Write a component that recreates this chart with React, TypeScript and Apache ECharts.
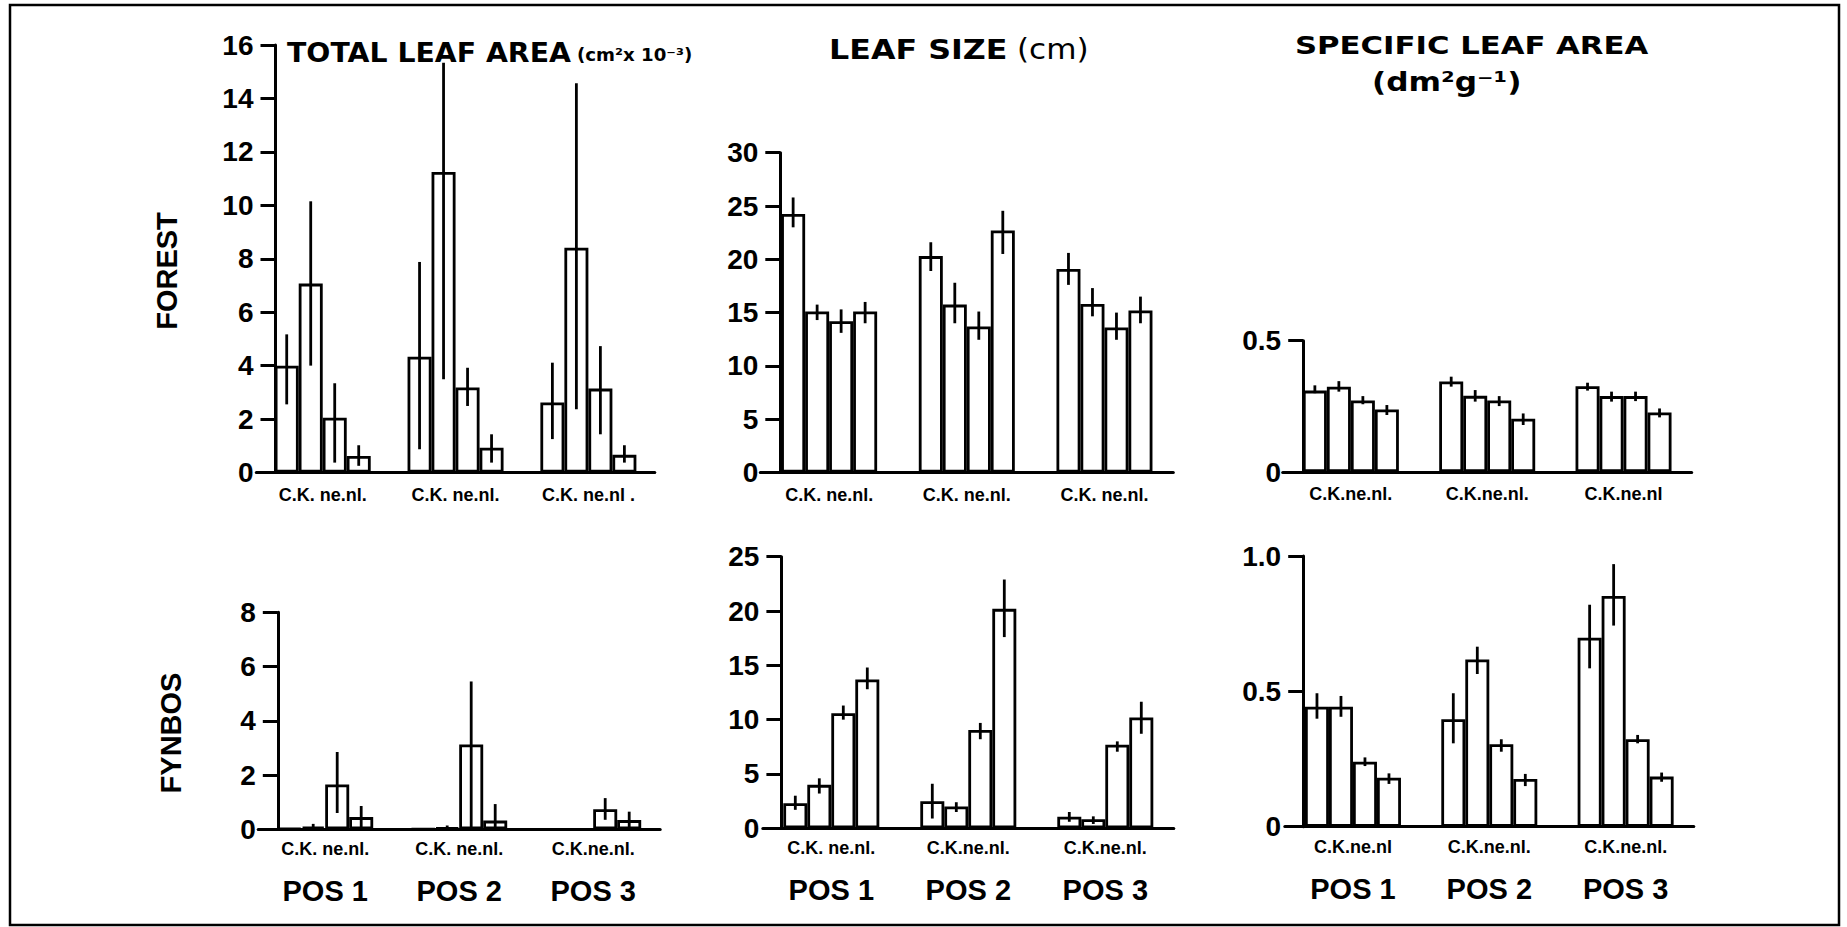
import React, { useEffect, useRef } from "react";
import * as echarts from "echarts";

// ---------- data ----------
const POSITIONS = ["POS 1", "POS 2", "POS 3"];
const SPECIES = ["C.", "K.", "ne.", "nl."];

// group labels as printed under each panel
const LABELS_TLA_FOREST = ["C.K. ne.nl.", "C.K. ne.nl.", "C.K. ne.nl ."];
const LABELS_SIZE_FOREST = ["C.K. ne.nl.", "C.K. ne.nl.", "C.K. ne.nl."];
const LABELS_SLA_FOREST = ["C.K.ne.nl.", "C.K.ne.nl.", "C.K.ne.nl"];
const LABELS_TLA_FYNBOS = ["C.K. ne.nl.", "C.K. ne.nl.", "C.K.ne.nl."];
const LABELS_SIZE_FYNBOS = ["C.K. ne.nl.", "C.K.ne.nl.", "C.K.ne.nl."];
const LABELS_SLA_FYNBOS = ["C.K.ne.nl", "C.K.ne.nl.", "C.K.ne.nl."];

// rows: POS 1..3 ; columns: C, K, ne, nl
const TLA_FOREST_MEAN = [[4.0, 7.07, 2.05, 0.62], [4.33, 11.25, 3.18, 0.93], [2.62, 8.41, 3.14, 0.66]];
const TLA_FOREST_LOW = [[2.55, 4.0, 0.37, 0.25], [0.87, 3.49, 2.49, 0.37], [1.25, 2.37, 1.43, 0.37]];
const TLA_FOREST_HIGH = [[5.17, 10.15, 3.34, 1.02], [7.88, 15.34, 3.92, 1.43], [4.11, 14.57, 4.73, 1.02]];

const SIZE_FOREST_MEAN = [[24.25, 15.1, 14.2, 15.1], [20.3, 15.75, 13.7, 22.7], [19.1, 15.8, 13.6, 15.2]];
const SIZE_FOREST_LOW = [[23.0, 14.3, 13.1, 14.0], [18.9, 14.0, 12.45, 20.5], [17.6, 14.65, 12.45, 14.0]];
const SIZE_FOREST_HIGH = [[25.8, 15.75, 15.3, 16.0], [21.6, 17.8, 15.1, 24.55], [20.6, 17.3, 15.0, 16.5]];

const SLA_FOREST_MEAN = [[0.31, 0.325, 0.272, 0.238], [0.345, 0.29, 0.272, 0.203], [0.327, 0.289, 0.289, 0.227]];
const SLA_FOREST_LOW = [[0.3, 0.306, 0.258, 0.217], [0.325, 0.268, 0.251, 0.179], [0.31, 0.268, 0.27, 0.208]];
const SLA_FOREST_HIGH = [[0.33, 0.346, 0.289, 0.255], [0.363, 0.312, 0.289, 0.223], [0.34, 0.306, 0.306, 0.242]];

const TLA_FYNBOS_MEAN = [[0.03, 0.1, 1.65, 0.45], [0.02, 0.06, 3.13, 0.32], [0, 0, 0.74, 0.34]];
const TLA_FYNBOS_LOW = [[null, 0.0, 0.6, 0.05], [null, 0.0, 0.05, 0.05], [null, null, 0.35, 0.05]];
const TLA_FYNBOS_HIGH = [[null, 0.2, 2.85, 0.86], [null, 0.14, 5.45, 0.93], [null, null, 1.15, 0.65]];

const SIZE_FYNBOS_MEAN = [[2.3, 4.0, 10.6, 13.7], [2.5, 2.0, 9.05, 20.2], [1.07, 0.83, 7.7, 10.2]];
const SIZE_FYNBOS_LOW = [[1.7, 3.2, 10.0, 12.8], [0.9, 1.5, 8.2, 17.6], [0.6, 0.4, 7.05, 8.7]];
const SIZE_FYNBOS_HIGH = [[3.0, 4.6, 11.3, 14.8], [4.1, 2.4, 9.7, 22.9], [1.5, 1.1, 8.0, 11.65]];

const SLA_FYNBOS_MEAN = [[0.443, 0.443, 0.24, 0.181], [0.397, 0.618, 0.305, 0.176], [0.698, 0.852, 0.323, 0.185]];
const SLA_FYNBOS_LOW = [[0.399, 0.406, 0.224, 0.158], [0.308, 0.564, 0.277, 0.15], [0.585, 0.743, 0.308, 0.166]];
const SLA_FYNBOS_HIGH = [[0.493, 0.483, 0.256, 0.197], [0.493, 0.665, 0.323, 0.195], [0.82, 0.97, 0.339, 0.2]];

// y axis scales
const TICKS_TLA_FOREST = { max: 16, interval: 2 };
const TICKS_SIZE_FOREST = { max: 30, interval: 5 };
const TICKS_SLA_FOREST = { max: 0.5, interval: 0.5 };
const TICKS_TLA_FYNBOS = { max: 8, interval: 2 };
const TICKS_SIZE_FYNBOS = { max: 25, interval: 5 };
const TICKS_SLA_FYNBOS = { max: 1.0, interval: 0.5 };

// ---------- layout / style ----------
const FONT = "'DejaVu Sans', 'Liberation Sans', sans-serif";
const HELV = "'Liberation Sans', Arial, sans-serif";
const BAR_W = 24;

const PANELS = [
  { labels: LABELS_TLA_FOREST, mean: TLA_FOREST_MEAN, low: TLA_FOREST_LOW, high: TLA_FOREST_HIGH, ticks: TICKS_TLA_FOREST, left: 256.3, width: 398.5, axisX: 275.5, top: 45, bottom: 472.5, row: 0 },
  { labels: LABELS_SIZE_FOREST, mean: SIZE_FOREST_MEAN, low: SIZE_FOREST_LOW, high: SIZE_FOREST_HIGH, ticks: TICKS_SIZE_FOREST, left: 760.3, width: 413, axisX: 780.3, top: 152.7, bottom: 472.5, row: 0 },
  { labels: LABELS_SLA_FOREST, mean: SLA_FOREST_MEAN, low: SLA_FOREST_LOW, high: SLA_FOREST_HIGH, ticks: TICKS_SLA_FOREST, left: 1282.7, width: 409, axisX: 1303.2, top: 340.7, bottom: 472.0, row: 0 },
  { labels: LABELS_TLA_FYNBOS, mean: TLA_FYNBOS_MEAN, low: TLA_FYNBOS_LOW, high: TLA_FYNBOS_HIGH, ticks: TICKS_TLA_FYNBOS, left: 258.2, width: 402, axisX: 277.8, top: 612.3, bottom: 829.3, row: 1 },
  { labels: LABELS_SIZE_FYNBOS, mean: SIZE_FYNBOS_MEAN, low: SIZE_FYNBOS_LOW, high: SIZE_FYNBOS_HIGH, ticks: TICKS_SIZE_FYNBOS, left: 762.8, width: 411, axisX: 781.4, top: 556.7, bottom: 828.3, row: 1 },
  { labels: LABELS_SLA_FYNBOS, mean: SLA_FYNBOS_MEAN, low: SLA_FYNBOS_LOW, high: SLA_FYNBOS_HIGH, ticks: TICKS_SLA_FYNBOS, left: 1284.8, width: 409, axisX: 1303.2, top: 556.0, bottom: 826.7, row: 1 },
];

function buildOption() {
  const grid: any[] = [];
  const xAxis: any[] = [];
  const yAxis: any[] = [];
  const series: any[] = [];

  PANELS.forEach((p, gi) => {
    grid.push({ left: p.left, top: p.top, width: p.width, height: p.bottom - p.top, containLabel: false });
    const labelBase = { color: "#000", fontFamily: HELV, fontWeight: "bold", fontSize: 18 };
    xAxis.push({
      gridIndex: gi,
      type: "category",
      data: p.labels,
      axisTick: { show: false },
      axisLine: { lineStyle: { color: "#000", width: 3 } },
      splitLine: { show: false },
      axisLabel:
        p.row === 0
          ? { ...labelBase, interval: 0, margin: 13 }
          : {
              interval: 0,
              margin: 9,
              formatter: (v: string, i: number) => `{a|${v}}\n{b|${POSITIONS[i]}}`,
              rich: {
                a: { ...labelBase, lineHeight: 22 },
                b: { color: "#000", fontFamily: HELV, fontWeight: "bold", fontSize: 29, lineHeight: 62 },
              },
            },
    });
    yAxis.push({
      gridIndex: gi,
      type: "value",
      min: 0,
      max: p.ticks.max,
      interval: p.ticks.interval,
      offset: p.left - p.axisX,
      splitLine: { show: false },
      axisLine: { show: true, lineStyle: { color: "#000", width: 3 } },
      axisTick: { show: true, length: 15, lineStyle: { color: "#000", width: 3 } },
      axisLabel: {
        color: "#000",
        fontFamily: HELV,
        fontWeight: "bold",
        fontSize: 28,
        margin: 22,
        formatter: (v: number) => (v === 1 ? "1.0" : String(v)),
      },
    });
    SPECIES.forEach((sp, si) => {
      series.push({
        type: "bar",
        name: sp,
        xAxisIndex: gi,
        yAxisIndex: gi,
        barWidth: BAR_W,
        barGap: "0%",
        data: p.mean.map((row) => row[si]),
        itemStyle: { color: "#fff", borderColor: "#000", borderWidth: 2.8 },
        emphasis: { disabled: true },
      });
    });
    const errData: any[] = [];
    p.low.forEach((row, pi) => {
      row.forEach((lo, si) => {
        const hi = p.high[pi][si];
        if (lo != null && hi != null) errData.push([pi, lo, hi, si]);
      });
    });
    series.push({
      type: "custom",
      xAxisIndex: gi,
      yAxisIndex: gi,
      data: errData,
      encode: { x: 0, y: [1, 2] },
      z: 5,
      renderItem: (params: any, api: any) => {
        const cat = api.value(0);
        const s = api.value(3);
        const a = api.coord([cat, api.value(1)]);
        const b = api.coord([cat, api.value(2)]);
        const x = a[0] + (s - 1.5) * BAR_W;
        return {
          type: "line",
          shape: { x1: x, y1: a[1], x2: x, y2: b[1] },
          style: { stroke: "#000", lineWidth: 2.8 },
        };
      },
    });
  });

  const titleStyle = (text: string, size: number, weight = "bold", family = FONT) => ({
    text,
    fill: "#000",
    fontFamily: family,
    fontWeight: weight,
    fontSize: size,
    align: "left",
    verticalAlign: "middle",
  });

  const graphic = [
    { type: "rect", silent: true, shape: { x: 10, y: 5, width: 1829, height: 920 }, style: { fill: "none", stroke: "#000", lineWidth: 2.5 } },
    { type: "text", x: 287, y: 53, scaleX: 1.09, style: titleStyle("TOTAL LEAF AREA", 26) },
    { type: "text", x: 577, y: 55, scaleX: 1.07, style: titleStyle("(cm²x 10⁻³)", 17) },
    { type: "text", x: 829, y: 50, scaleX: 1.22, style: titleStyle("LEAF SIZE", 26) },
    { type: "text", x: 1017, y: 50, scaleX: 1.11, style: titleStyle("(cm)", 28, "normal") },
    { type: "text", x: 1295, y: 45, scaleX: 1.28, style: titleStyle("SPECIFIC LEAF AREA", 24) },
    { type: "text", x: 1372, y: 82, scaleX: 1.2, style: titleStyle("(dm²g⁻¹)", 26) },
    { type: "text", x: 167, y: 271, rotation: Math.PI / 2, style: { ...titleStyle("FOREST", 29, "bold", HELV), align: "center" } },
    { type: "text", x: 171, y: 733, rotation: Math.PI / 2, style: { ...titleStyle("FYNBOS", 29, "bold", HELV), align: "center" } },
  ];

  return {
    animation: false,
    backgroundColor: "#fff",
    grid,
    xAxis,
    yAxis,
    series,
    graphic,
  };
}

export default function App() {
  const ref = useRef<HTMLDivElement>(null);
  useEffect(() => {
    if (!ref.current) return;
    const chart = echarts.init(ref.current, undefined, { renderer: "svg" });
    chart.setOption(buildOption() as any);
    return () => chart.dispose();
  }, []);
  return (
    <div
      ref={ref}
      style={{ position: "absolute", left: 0, top: 0, width: 1847, height: 927, background: "#fff" }}
    />
  );
}
